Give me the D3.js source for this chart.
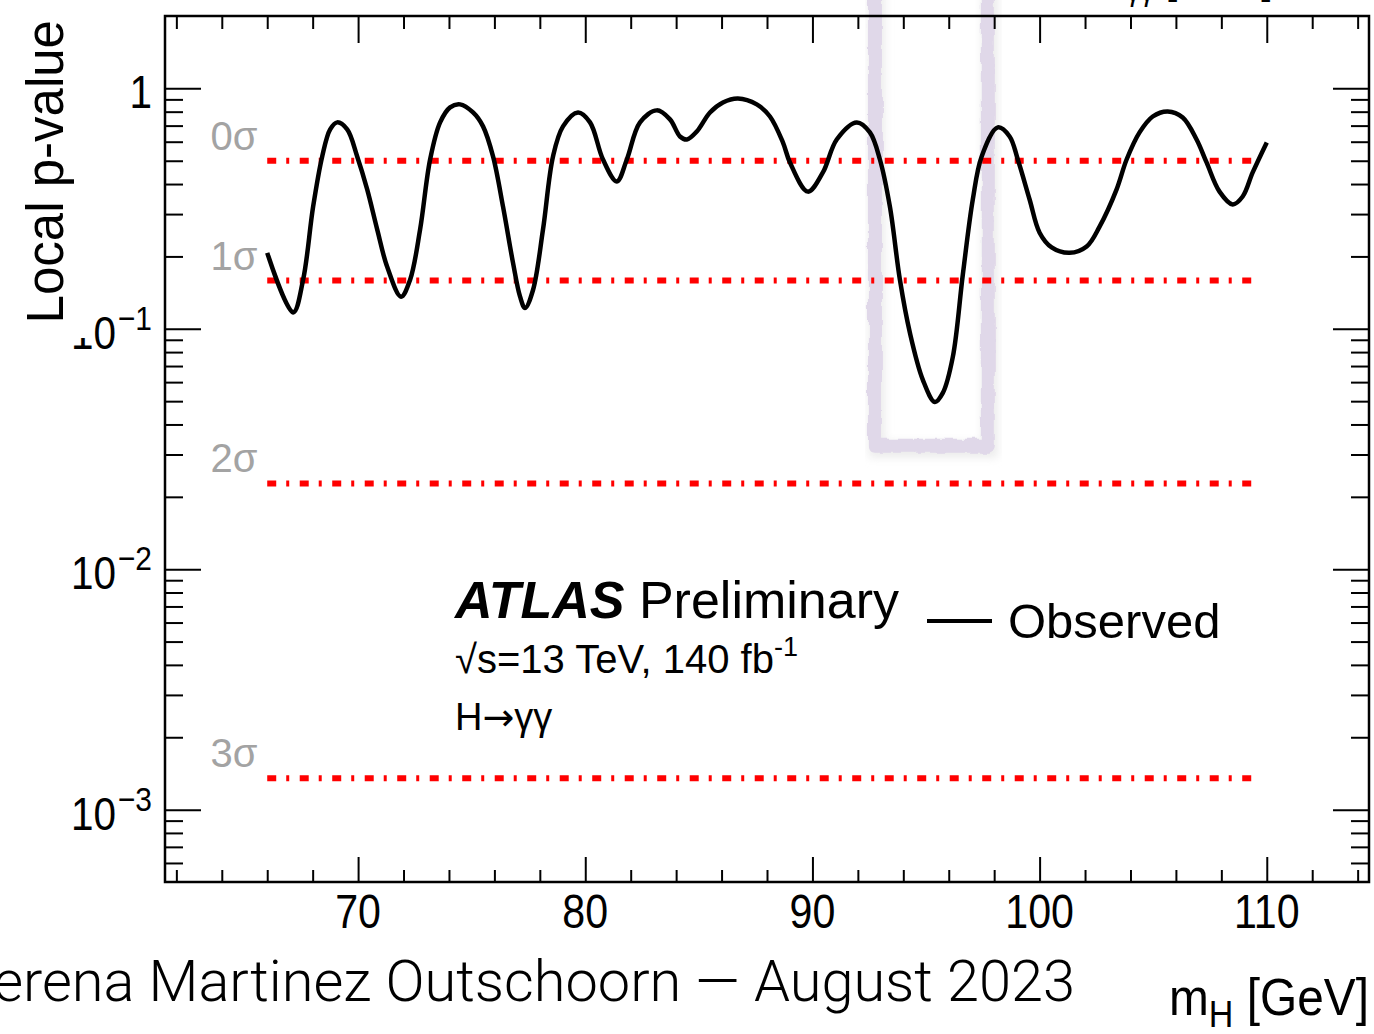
<!DOCTYPE html>
<html>
<head>
<meta charset="utf-8">
<script src="https://cdn.jsdelivr.net/npm/d3@7"></script>
<style>
body{margin:0;background:#fff;overflow:hidden}
svg{display:block}
text{font-family:"Liberation Sans",Arial,sans-serif}
</style>
</head>
<body>
<svg></svg>
<script>
// observed local p-value vs mass
var massPoints = [66.0, 67.14, 67.58, 68.02, 68.42, 68.77, 69.08, 69.52, 69.96, 70.40,
    70.84, 71.28, 71.89, 72.29, 72.73, 73.17, 73.61, 74.05, 74.49, 75.06,
    75.50, 75.94, 76.38, 76.82, 77.13, 77.35, 77.70, 78.14, 78.58, 79.02,
    79.68, 80.21, 80.78, 81.39, 81.83, 82.41, 83.15, 83.73, 84.17, 84.47,
    84.91, 85.49, 86.06, 86.72, 87.55, 88.13, 88.70, 89.01, 89.80, 90.46,
    91.07, 91.95, 92.53, 92.97, 93.41, 93.85, 94.29, 94.86, 95.39, 95.74,
    96.18, 96.62, 97.06, 97.45, 98.16, 98.68, 99.04, 99.56, 100.00, 100.53,
    101.32, 102.07, 102.64, 103.39, 103.83, 104.40, 104.98, 105.64, 106.30, 106.91,
    107.35, 107.92, 108.50, 108.94, 109.38, 110.0]
var pValues = [0.207, 0.117, 0.160, 0.322, 0.521, 0.675, 0.722, 0.675, 0.521, 0.380,
    0.259, 0.181, 0.136, 0.160, 0.259, 0.506, 0.722, 0.834, 0.858, 0.794,
    0.695, 0.521, 0.322, 0.188, 0.136, 0.122, 0.145, 0.259, 0.521, 0.695,
    0.794, 0.722, 0.506, 0.410, 0.506, 0.722, 0.810, 0.743, 0.631, 0.613,
    0.662, 0.794, 0.874, 0.908, 0.858, 0.764, 0.596, 0.492, 0.372, 0.447,
    0.613, 0.722, 0.656, 0.506, 0.322, 0.160, 0.0962, 0.0613, 0.0496, 0.0541,
    0.0764, 0.168, 0.345, 0.521, 0.688, 0.631, 0.506, 0.345, 0.251, 0.218,
    0.207, 0.220, 0.266, 0.380, 0.506, 0.656, 0.764, 0.802, 0.757, 0.613,
    0.492, 0.372, 0.329, 0.355, 0.447, 0.596]

var sigmaNames = ["0\u03c3", "1\u03c3", "2\u03c3", "3\u03c3"]
var sigmaP = [0.5, 0.1587, 0.02275, 0.00135]
var sigmaRange = [66, 109.6]

var xTicks = [70, 80, 90, 100, 110]
var yTicks = [1, 0.1, 0.01, 0.001]
var yTickPowers = ["", "\u22121", "\u22122", "\u22123"]

// the hand drawn box round the dip
var boxRange = [92.75, 97.72]
var boxFloor = 0.0326

var screen = {width: 1374, height: 1034}
var frame = {left: 165, right: 1369, top: 16, bottom: 882}

var svg = d3.select("svg")
    .attr("width", screen.width)
    .attr("height", screen.height)

var xScale = d3.scaleLinear()
    .domain([61.5, 114.5])
    .range([frame.left, frame.right])

var yScale = d3.scaleLog()
    .domain([5e-4, 2])
    .range([frame.bottom, frame.top])

var observed = massPoints.map(function(m, i) {
    return {x: m, y: pValues[i]}
})
console.log(observed)

// minor ticks
var xMinor = d3.range(62, 115, 2).filter(function(d) { return d % 10 != 0 })
var yMinor = []
d3.range(-4, 1).forEach(function(k) {
    d3.range(2, 10).forEach(function(m) {
        var v = m * Math.pow(10, k)
        if (v > 5e-4 && v < 2) yMinor.push(v)
    })
})

// ---- highlight box
var defs = svg.append("defs")
var rough = defs.append("filter").attr("id", "rough")
    .attr("x", "-20%").attr("y", "-20%").attr("width", "140%").attr("height", "140%")
rough.append("feTurbulence").attr("type", "fractalNoise")
    .attr("baseFrequency", "0.09 0.05").attr("numOctaves", 3).attr("result", "noise")
rough.append("feDisplacementMap").attr("in", "SourceGraphic").attr("in2", "noise")
    .attr("scale", 6)

var shadow = defs.append("filter").attr("id", "shadow")
shadow.append("feGaussianBlur").attr("stdDeviation", 4)

var boxPath = function() {
    var x0 = xScale(boxRange[0]), x1 = xScale(boxRange[1])
    var yb = yScale(boxFloor)
    return "M" + x0 + ",-30 L" + x0 + "," + yb + " L" + x1 + "," + yb + " L" + x1 + ",-30"
}

svg.append("path")
    .attr("d", boxPath())
    .attr("transform", "translate(2,4)")
    .attr("fill", "none")
    .attr("stroke", "#ececec")
    .attr("stroke-width", 16)
    .attr("filter", "url(#shadow)")

svg.append("path")
    .attr("d", boxPath())
    .attr("fill", "none")
    .attr("stroke", "#e0d8e9")
    .attr("stroke-width", 14)
    .attr("stroke-linejoin", "round")
    .attr("filter", "url(#rough)")

// ---- sigma lines
svg.selectAll(".sigma")
    .data(sigmaP)
    .enter()
    .append("line")
    .attr("class", "sigma")
    .attr("x1", xScale(sigmaRange[0]))
    .attr("x2", xScale(sigmaRange[1]))
    .attr("y1", function(d) { return yScale(d) })
    .attr("y2", function(d) { return yScale(d) })
    .attr("stroke", "#ff0000")
    .attr("stroke-width", 6)
    .attr("stroke-dasharray", "9,10,3,10.5")

svg.selectAll(".sigmaLabel")
    .data(sigmaP)
    .enter()
    .append("text")
    .attr("class", "sigmaLabel")
    .attr("x", xScale(63.5))
    .attr("y", function(d) { return yScale(d) - 11 })
    .attr("font-size", 40)
    .attr("fill", "#a3a3a3")
    .text(function(d, i) { return sigmaNames[i] })

// ---- observed curve
var line = d3.line()
    .x(function(d) { return xScale(d.x) })
    .y(function(d) { return yScale(d.y) })
    .curve(d3.curveCatmullRom.alpha(0.5))

svg.append("path")
    .datum(observed)
    .attr("d", line)
    .attr("fill", "none")
    .attr("stroke", "#000")
    .attr("stroke-width", 4.5)
    .attr("stroke-linejoin", "round")

// ---- axes (ticks inside the frame, on all four sides)
var tickLayer = svg.append("g")

var addAxis = function(axis, values, size, transform) {
    var g = tickLayer.append("g")
        .attr("transform", transform)
        .call(axis.tickValues(values).tickSize(size).tickFormat(""))
    g.select(".domain").remove()
    g.selectAll(".tick line").attr("stroke", "#000").attr("stroke-width", 2)
}

addAxis(d3.axisBottom(xScale), xTicks, -25, "translate(0," + frame.bottom + ")")
addAxis(d3.axisBottom(xScale), xMinor, -12, "translate(0," + frame.bottom + ")")
addAxis(d3.axisTop(xScale), xTicks, -27, "translate(0," + frame.top + ")")
addAxis(d3.axisTop(xScale), xMinor, -13, "translate(0," + frame.top + ")")
addAxis(d3.axisLeft(yScale), yTicks, -36, "translate(" + frame.left + ",0)")
addAxis(d3.axisLeft(yScale), yMinor, -18, "translate(" + frame.left + ",0)")
addAxis(d3.axisRight(yScale), yTicks, -36, "translate(" + frame.right + ",0)")
addAxis(d3.axisRight(yScale), yMinor, -18, "translate(" + frame.right + ",0)")

svg.append("rect")
    .attr("x", frame.left)
    .attr("y", frame.top)
    .attr("width", frame.right - frame.left)
    .attr("height", frame.bottom - frame.top)
    .attr("fill", "none")
    .attr("stroke", "#000")
    .attr("stroke-width", 2.5)

// tick labels (condensed like the original)
svg.selectAll(".xlab")
    .data(xTicks)
    .enter()
    .append("text")
    .attr("class", "xlab")
    .attr("transform", function(d) { return "translate(" + xScale(d) + ",928) scale(0.84,1)" })
    .attr("text-anchor", "middle")
    .attr("font-size", 49)
    .text(function(d) { return d })

var ylab = svg.selectAll(".ylab")
    .data(yTicks)
    .enter()
    .append("text")
    .attr("class", "ylab")
    .attr("transform", function(d) { return "translate(152," + (yScale(d) + 20) + ") scale(0.88,1)" })
    .attr("text-anchor", "end")
    .attr("font-size", 46)

ylab.append("tspan")
    .text(function(d, i) { return i == 0 ? "1" : "10" })
ylab.append("tspan")
    .attr("dy", -19)
    .attr("dx", function(d, i) { return i == 0 ? 0 : 2 })
    .attr("font-size", 34)
    .text(function(d, i) { return yTickPowers[i] })

// axis titles
svg.append("rect")
    .attr("x", 0).attr("y", 0)
    .attr("width", 87).attr("height", 338)
    .attr("fill", "#fff")

svg.append("text")
    .attr("transform", "translate(63,20) rotate(-90)")
    .attr("text-anchor", "end")
    .attr("font-size", 51)
    .text("Local p-value")

var xTitle = svg.append("text")
    .attr("transform", "translate(1369,1015) scale(0.92,1)")
    .attr("text-anchor", "end")
    .attr("font-size", 52)
xTitle.append("tspan").text("m")
xTitle.append("tspan").attr("dy", 12).attr("font-size", 37).text("H")
xTitle.append("tspan").attr("dy", -12).text(" [GeV]")

// cut-off title of the plot above
var topTitle = svg.append("text")
    .attr("x", 1273)
    .attr("y", -7)
    .attr("text-anchor", "end")
    .attr("font-size", 42)
topTitle.append("tspan").text("m")
topTitle.append("tspan").attr("dy", 8).attr("font-size", 28).text("\u03b3\u03b3")
topTitle.append("tspan").attr("dy", -8).text(" [GeV]")

// ---- ATLAS label and legend
var atlas = svg.append("text")
    .attr("x", 455)
    .attr("y", 618)
    .attr("font-size", 52)
atlas.append("tspan")
    .attr("font-weight", "bold")
    .attr("font-style", "italic")
    .text("ATLAS")
atlas.append("tspan").text(" Preliminary")

var energy = svg.append("text")
    .attr("x", 455)
    .attr("y", 673)
    .attr("font-size", 40)
energy.append("tspan").text("\u221as=13 TeV, 140 fb")
energy.append("tspan").attr("dy", -17).attr("font-size", 27).text("-1")

var decay = svg.append("text")
    .attr("x", 455)
    .attr("y", 730)
    .attr("font-size", 38)
decay.append("tspan").text("H")
decay.append("tspan")
    .style("font-family", "'DejaVu Sans', sans-serif")
    .attr("font-size", 38)
    .text("\u2192")
decay.append("tspan").text("\u03b3\u03b3")

svg.append("line")
    .attr("x1", 927).attr("x2", 992)
    .attr("y1", 621).attr("y2", 621)
    .attr("stroke", "#000")
    .attr("stroke-width", 4)

svg.append("text")
    .attr("x", 1008)
    .attr("y", 638)
    .attr("font-size", 49)
    .text("Observed")

// footer
svg.append("text")
    .attr("x", -41)
    .attr("y", 1001)
    .style("font-family", "Roboto, 'Liberation Sans', sans-serif")
    .style("font-weight", 300)
    .attr("font-size", 58)
    .attr("textLength", 1116)
    .attr("lengthAdjust", "spacingAndGlyphs")
    .text("Serena Martinez Outschoorn \u2014 August 2023")
</script>
</body>
</html>
